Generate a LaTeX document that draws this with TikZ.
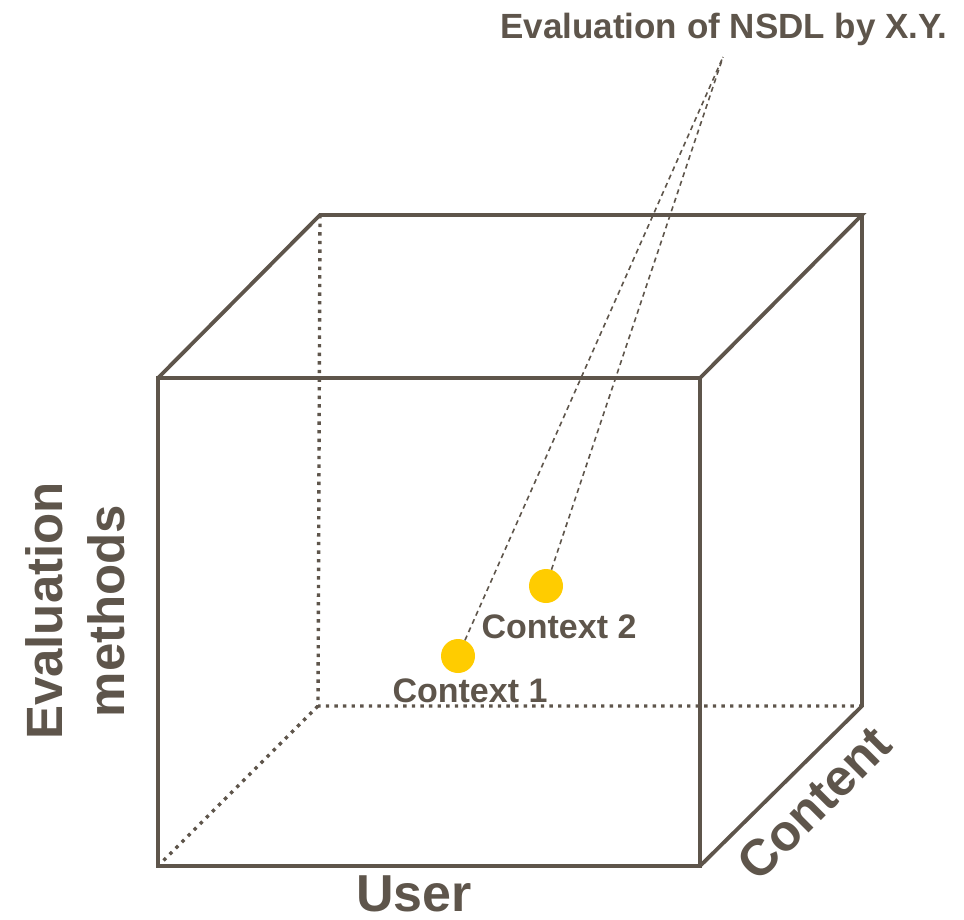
\documentclass[tikz,border=0pt]{standalone}
\usepackage{fontspec}
\setmainfont{Liberation Sans}
\usepackage{tikz}
\usetikzlibrary{shapes,arrows,positioning,calc}

\definecolor{cubegray}{RGB}{94,85,75}
\definecolor{dotyellow}{RGB}{255,204,0}

\begin{document}
\begin{tikzpicture}[x=1pt, y=-1pt, >=latex',
  cube/.style={draw=cubegray, line width=3.8pt, line join=miter},
  hidden/.style={draw=cubegray, line width=3.4pt, dash pattern=on 3.4pt off 5.2pt},
  ctx/.style={circle, fill=dotyellow, minimum size=34pt, inner sep=0pt},
  pointer/.style={draw=cubegray, line width=1.6pt, dash pattern=on 5pt off 4pt},
  lbl/.style={text=cubegray, inner sep=0pt, font=\bfseries\fontsize{#1}{#1}\selectfont}]
  \useasboundingbox (0,0) rectangle (964,919);

  % corners of the cube
  \coordinate (fa) at (158,378);
  \coordinate (fb) at (700,378);
  \coordinate (fc) at (700,866);
  \coordinate (fd) at (158,866);
  \coordinate (ba) at (320,215);
  \coordinate (bb) at (862,215);
  \coordinate (bc) at (862,706);
  \coordinate (bd) at (318,706);

  % hidden edges
  \draw [hidden] (ba) -- (bd) -- (bc);
  \draw [hidden] (bd) -- (fd);

  % visible edges
  \draw [cube] (fa) -- (fb) -- (fc) -- (fd) -- cycle;
  \draw [cube] (fa) -- (ba) -- (bb) -- (fb);
  \draw [cube] (bb) -- (bc) -- (fc);

  % contexts
  \node [ctx] (c1) at (458,656) {};
  \node [ctx] (c2) at (546,586) {};
  \node [lbl=34, anchor=base] (c1label) at (470,702) {Context 1};
  \node [lbl=34, anchor=base] (c2label) at (559,638) {Context 2};

  \node [lbl=35, anchor=base] (study) at (724,38) {Evaluation of NSDL by X.Y.};
  \coordinate (src) at (723,57);
  \draw [pointer] (c1) -- (src);
  \draw [pointer] (c2) -- (src);

  % axes
  \node [lbl=52, anchor=base] (user) at (414,911) {User};
  \node [lbl=51, rotate=90, align=center] (methods) at (75,611) {Evaluation\\[11pt]methods};
  \node [lbl=51, rotate=45] (content) at (814,803) {Content};
\end{tikzpicture}
\end{document}
